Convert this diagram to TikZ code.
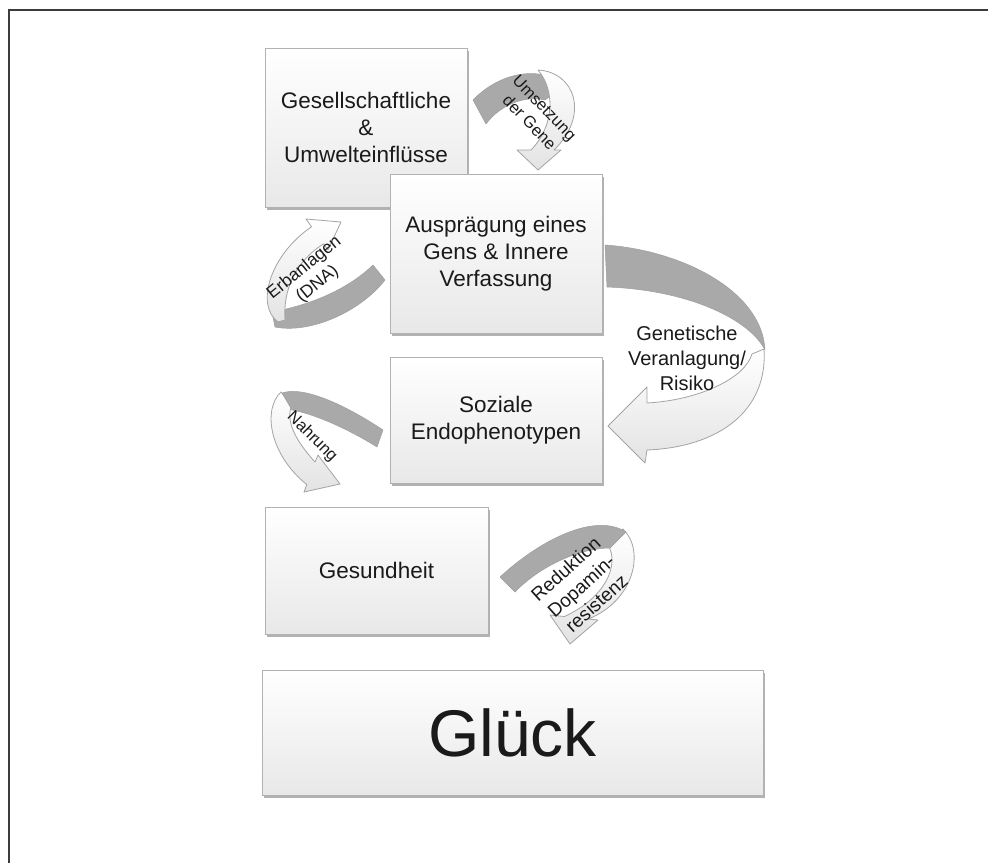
\documentclass[tikz,border=0pt]{standalone}
\usepackage{fontspec}
\setmainfont{Liberation Sans}
\usetikzlibrary{shadows}
\definecolor{backgray}{HTML}{A9A9A9}
\definecolor{frontedge}{HTML}{A4A4A4}
\definecolor{boxedge}{HTML}{B2B2B2}
\definecolor{txt}{HTML}{1A1A1A}
\definecolor{framecol}{HTML}{3C3C3C}
\begin{document}
\begin{tikzpicture}[x=1pt,y=-1pt,
  box/.style 2 args={draw=boxedge, line width=0.9pt, top color=white, bottom color=black!9,
    minimum width=#1pt, minimum height=#2pt, inner sep=0pt, align=center, text=txt,
    font=\fontsize{22.5}{27}\selectfont,
    drop shadow={shadow xshift=1.5pt, shadow yshift=-2.5pt, fill=black, opacity=0.3}},
  back/.style={fill=backgray, draw=black!38, line width=0.5pt, line join=round},
  front/.style={top color=white, bottom color=black!11, draw=frontedge, line width=0.8pt, line join=round},
  lab/.style={inner sep=0pt, align=center, text=txt, font=\fontsize{17}{21}\selectfont},
  framestyle/.style={draw=framecol, line width=2pt}]
\useasboundingbox (0,0) rectangle (988,863);
\fill[white] (0,0) rectangle (988,863);
% frame
\coordinate (fTR) at (988,10);
\coordinate (fTL) at (9,10);
\coordinate (fBL) at (9,863);
\draw[framestyle] (fTR) -- (fTL) -- (fBL);

% boxes
\node[box={202}{159}] (b1) at (366,127.5) {Gesellschaftliche\\\&\\Umwelteinflüsse};
\node[box={212}{159}] (b2) at (496,253.5) {Ausprägung eines\\Gens \& Innere\\Verfassung};
\node[box={212}{126}] (b3) at (496,420) {Soziale\\Endophenotypen};
\node[box={223}{127}] (b4) at (376.5,570.5) {Gesundheit};
\node[box={501}{125}, font=\fontsize{66}{70}\selectfont] (b5) at (512.5,732.5) {Glück};

% arrow A: Umsetzung der Gene
\draw[back] (473,100) .. controls (500,72) and (540,65) .. (565,85) -- (545,100)
  .. controls (525,95) and (500,105) .. (486,124) -- cycle;
\draw[front] (538,70) .. controls (575,72) and (590,115) .. (554,150) -- (561,150) -- (538,170)
  -- (517,150) -- (531,150) .. controls (555,125) and (555,90) .. (538,70) -- cycle;

% arrow B: Erbanlagen (DNA)
\draw[back] (373,265) .. controls (345,292) and (305,306) .. (272,312) -- (275,327)
  .. controls (310,334) and (360,312) .. (385,280) -- cycle;
\draw[front] (278,322) .. controls (255,305) and (270,255) .. (311.5,226.8) -- (306,219)
  -- (341,222) -- (328,250) -- (323.6,243.8) .. controls (295,262) and (283,290) .. (285,320) -- cycle;

% arrow C: Genetische Veranlagung / Risiko
\draw[front] (764,349) .. controls (768,410) and (720,447) .. (647,450) -- (645,463) -- (608,426)
  -- (647,387) -- (647,403) .. controls (700,400) and (745,378) .. (752,354) -- cycle;
\draw[back] (605,245) .. controls (680,250) and (762,290) .. (765,350)
  .. controls (750,320) and (690,290) .. (607,287) -- cycle;

% arrow D: Nahrung
\draw[front] (281,392) .. controls (262,410) and (270,455) .. (306.8,484.6) -- (304,492) -- (340,484)
  -- (318,455) -- (315,462) .. controls (295,440) and (285,420) .. (292,405) -- cycle;
\draw[back] (383,430) .. controls (350,408) and (305,385) .. (282,393) -- (292,410)
  .. controls (315,414) and (350,430) .. (377,447) -- cycle;

% arrow E: Reduktion Dopaminresistenz
\draw[front] (623,529) .. controls (645,550) and (635,600) .. (588.4,619) -- (598,620) -- (570,644)
  -- (550,615) -- (564.4,616.5) .. controls (605,598) and (620,565) .. (608,545) -- cycle;
\draw[back] (500,577) .. controls (540,540) and (595,512) .. (626,532) -- (610,548)
  .. controls (580,548) and (540,566) .. (515,592) -- cycle;

% labels
\node[lab, font=\fontsize{16.5}{21}\selectfont, rotate=-46] (lA) at (537,115) {Umsetzung\\der Gene};
\node[lab, font=\fontsize{17.5}{21}\selectfont, rotate=39] (lB) at (311,276) {Erbanlagen\\(DNA)};
\node[lab, font=\fontsize{20}{25}\selectfont] (lC) at (687,358) {Genetische\\Veranlagung/\\Risiko};
\node[lab, font=\fontsize{16.5}{20}\selectfont, rotate=-45] (lD) at (312,437) {Nahrung};
\node[lab, font=\fontsize{19}{23}\selectfont, rotate=42] (lE) at (581,586) {Reduktion\\Dopamin-\\resistenz};
\end{tikzpicture}
\end{document}
